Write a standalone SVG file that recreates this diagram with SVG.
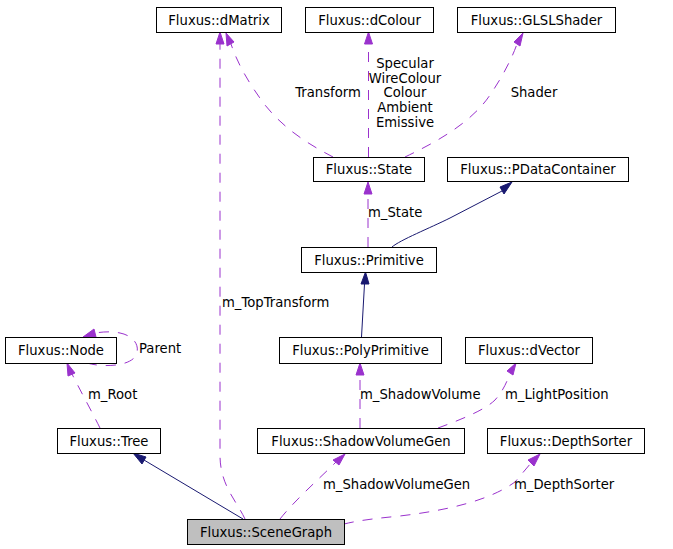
<svg xmlns="http://www.w3.org/2000/svg" width="673" height="549" viewBox="0 0 673 549">
<style>
text{font-family:"DejaVu Sans","Liberation Sans",sans-serif;font-size:13.2px;fill:#000}
.n rect{fill:#fff;stroke:#000;stroke-width:1}
.n text{text-anchor:middle}
.d{fill:none;stroke:#9a32cd;stroke-width:1;stroke-dasharray:10,9}
.s{fill:none;stroke:#191970;stroke-width:1}
.ap{fill:#9a32cd;stroke:#9a32cd}
.an{fill:#191970;stroke:#191970}
.c{text-anchor:middle}
</style>
<rect width="673" height="549" fill="#fff"/>
<g id="connectors">
<path class="d" d="M245,519 C236,500 220,485 220,455 L220,44"/>
<polygon class="ap" points="216,44 220,32 224,44"/>
<text x="222" y="307">m_TopTransform</text>
<path class="d" d="M333,157 C310,145 285,130 265,105 C250,85 238,65 231,44"/>
<polygon class="ap" points="227,46 226,33 234,42"/>
<text class="c" x="328" y="97">Transform</text>
<path class="d" d="M368.5,157 L368.5,44"/>
<polygon class="ap" points="364.5,44 368.5,32 372.5,44"/>
<text class="c" x="405" y="68">Specular</text>
<text class="c" x="405" y="82.5">WireColour</text>
<text class="c" x="405" y="97">Colour</text>
<text class="c" x="405" y="111.5">Ambient</text>
<text class="c" x="405" y="126.5">Emissive</text>
<path class="d" d="M405,157 C430,145 470,125 490,95 C503,76 512,58 517,44"/>
<polygon class="ap" points="514,42 523,33 520,46"/>
<text class="c" x="534" y="97">Shader</text>
<path class="d" d="M368,247 L368,194"/>
<polygon class="ap" points="364,194 368,182 372,194"/>
<text x="368" y="217">m_State</text>
<path class="s" d="M392,247 C400,240 430,228 450,218 L502,191"/>
<polygon class="an" points="500,187 512,182 504,194"/>
<path class="s" d="M361.5,337 L364.5,284"/>
<polygon class="an" points="361,284 365.5,272 369,284"/>
<path class="d" d="M360,428 L360,375"/>
<polygon class="ap" points="356,375 360,363 364,375"/>
<text x="360" y="399">m_ShadowVolume</text>
<path class="d" d="M438,428 C460,420 485,410 495,400 C503,391 507,382 510,373"/>
<polygon class="ap" points="507,371 516,363 513,375"/>
<text x="505" y="399">m_LightPosition</text>
<path class="d" d="M280,519 C295,500 320,478 336,462"/>
<polygon class="ap" points="333,460 345,454 339,465"/>
<text x="323" y="489">m_ShadowVolumeGen</text>
<path class="d" d="M344,524 C360,520 380,518 400,516 C450,510 490,500 515,482 L531,463"/>
<polygon class="ap" points="528,460 540,454 534,466"/>
<text x="514" y="489">m_DepthSorter</text>
<path class="s" d="M243,519 L144,460"/>
<polygon class="an" points="142,464 133,453 146,457"/>
<path class="d" d="M100,428 C92,412 80,390 72,374"/>
<polygon class="ap" points="68,376 67,363 75,373"/>
<text x="88" y="399">m_Root</text>
<path class="d" d="M87,363 C100,367 125,367 134,358 C142,348 135,336 120,333 C110,331 102,332 95,333"/>
<polygon class="ap" points="94,329 83,337 96,337"/>
<text x="139" y="353">Parent</text>
</g>
<g id="dMatrix" class="n"><rect x="156.5" y="7.5" width="125" height="25"/><text x="219" y="24.5">Fluxus::dMatrix</text></g>
<g id="dColour" class="n"><rect x="305.5" y="7.5" width="128" height="25"/><text x="369.5" y="24.5">Fluxus::dColour</text></g>
<g id="GLSLShader" class="n"><rect x="457.5" y="7.5" width="158" height="25"/><text x="536.5" y="24.5">Fluxus::GLSLShader</text></g>
<g id="State" class="n"><rect x="313.5" y="157.5" width="111" height="24"/><text x="369" y="174">Fluxus::State</text></g>
<g id="PDataContainer" class="n"><rect x="447.5" y="157.5" width="181" height="24"/><text x="538" y="174">Fluxus::PDataContainer</text></g>
<g id="Primitive" class="n"><rect x="301.5" y="247.5" width="135" height="25"/><text x="369" y="264.5">Fluxus::Primitive</text></g>
<g id="Node" class="n"><rect x="5.5" y="337.5" width="111" height="26"/><text x="61" y="355">Fluxus::Node</text></g>
<g id="PolyPrimitive" class="n"><rect x="279.5" y="337.5" width="162" height="26"/><text x="360.5" y="355">Fluxus::PolyPrimitive</text></g>
<g id="dVector" class="n"><rect x="465.5" y="337.5" width="127" height="26"/><text x="529" y="355">Fluxus::dVector</text></g>
<g id="Tree" class="n"><rect x="57.5" y="428.5" width="103" height="25"/><text x="109" y="445.5">Fluxus::Tree</text></g>
<g id="ShadowVolumeGen" class="n"><rect x="257.5" y="428.5" width="207" height="25"/><text x="361" y="445.5">Fluxus::ShadowVolumeGen</text></g>
<g id="DepthSorter" class="n"><rect x="487.5" y="428.5" width="157" height="25"/><text x="566" y="445.5">Fluxus::DepthSorter</text></g>
<g id="SceneGraph" class="n"><rect x="187.5" y="519.5" width="157" height="25" style="fill:#bfbfbf"/><text x="266" y="536.5">Fluxus::SceneGraph</text></g>
</svg>
